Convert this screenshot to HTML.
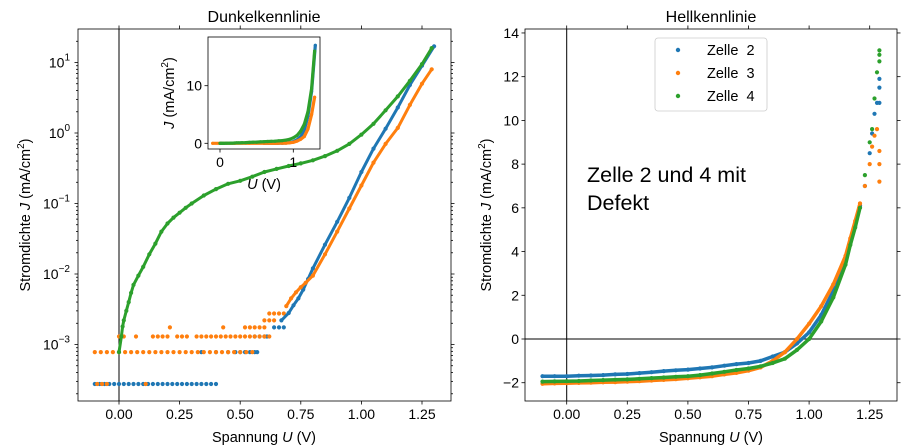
<!DOCTYPE html>
<html><head><meta charset="utf-8">
<style>
html,body{margin:0;padding:0;background:#fff;}
svg{display:block;font-family:"Liberation Sans","DejaVu Sans",sans-serif;}
</style></head>
<body>
<svg id="fig" width="923" height="447" viewBox="0 0 923 447" xmlns="http://www.w3.org/2000/svg"></svg>
<script>
// ---------- DATA ----------
const darkBlueFloorU = [-0.1,-0.08,-0.06,-0.04,-0.02,0,0.02,0.04,0.06,0.08,0.1,0.12,0.14,0.16,0.18,0.2,0.22,0.24,0.26,0.28,0.3,0.32,0.34,0.36,0.38,0.4,0.34,0.4,0.45,0.48,0.5,0.52,0.54,0.56,0.57,0.56,0.58,0.6,0.61,0.64,0.66,0.68];
const darkBlueFloorJ = [2.75e-4,2.75e-4,2.75e-4,2.75e-4,2.75e-4,2.75e-4,2.75e-4,2.75e-4,2.75e-4,2.75e-4,2.75e-4,2.75e-4,2.75e-4,2.75e-4,2.75e-4,2.75e-4,2.75e-4,2.75e-4,2.75e-4,2.75e-4,2.75e-4,2.75e-4,2.75e-4,2.75e-4,2.75e-4,2.75e-4,7.8e-4,7.8e-4,7.8e-4,7.8e-4,7.8e-4,7.8e-4,7.8e-4,7.8e-4,7.8e-4,1.3e-3,1.3e-3,1.3e-3,1.3e-3,1.75e-3,1.75e-3,1.75e-3];
const darkOrangeFloorU = [-0.09,-0.07,-0.05,0.11,-0.1,-0.075,-0.05,-0.025,0,0.025,0.05,0.075,0.1,0.125,0.15,0.175,0.2,0.225,0.25,0.275,0.3,0.325,0.35,0.375,0.4,0.425,0.45,0.475,0.5,0.525,0.55,0,0.02,0.07,0.14,0.16,0.18,0.2,0.24,0.26,0.28,0.32,0.34,0.36,0.38,0.4,0.42,0.44,0.46,0.48,0.5,0.52,0.54,0.56,0.58,0.6,0.62,0.21,0.43,0.52,0.54,0.56,0.58,0.6,0.6,0.62,0.64,0.62,0.64,0.66,0.68];
const darkOrangeFloorJ = [2.75e-4,2.75e-4,2.75e-4,2.75e-4,7.8e-4,7.8e-4,7.8e-4,7.8e-4,7.8e-4,7.8e-4,7.8e-4,7.8e-4,7.8e-4,7.8e-4,7.8e-4,7.8e-4,7.8e-4,7.8e-4,7.8e-4,7.8e-4,7.8e-4,7.8e-4,7.8e-4,7.8e-4,7.8e-4,7.8e-4,7.8e-4,7.8e-4,7.8e-4,7.8e-4,7.8e-4,1.3e-3,1.3e-3,1.3e-3,1.3e-3,1.3e-3,1.3e-3,1.3e-3,1.3e-3,1.3e-3,1.3e-3,1.3e-3,1.3e-3,1.3e-3,1.3e-3,1.3e-3,1.3e-3,1.3e-3,1.3e-3,1.3e-3,1.3e-3,1.3e-3,1.3e-3,1.3e-3,1.3e-3,1.3e-3,1.3e-3,1.75e-3,1.75e-3,1.75e-3,1.75e-3,1.75e-3,1.75e-3,1.75e-3,2.2e-3,2.2e-3,2.2e-3,2.75e-3,2.75e-3,2.75e-3,2.75e-3];
const darkBlueU = [-0.1,0,0.2,0.4,0.6,0.67,0.7,0.72,0.74,0.76,0.78,0.8,0.85,0.9,0.95,1.0,1.05,1.1,1.15,1.2,1.25,1.3];
const darkBlueJ = [2.75e-4,2.75e-4,2.8e-4,4e-4,1.2e-3,2.2e-3,2.8e-3,3.6e-3,4.5e-3,6e-3,8.5e-3,0.012,0.026,0.055,0.12,0.28,0.6,1.15,2.3,4.8,9,17];
const darkOrangeU = [-0.1,0,0.2,0.4,0.6,0.69,0.71,0.73,0.75,0.77,0.8,0.85,0.9,0.95,1.0,1.05,1.1,1.15,1.2,1.25,1.29];
const darkOrangeJ = [7.8e-4,8e-4,1e-3,1.2e-3,1.8e-3,3.5e-3,4.5e-3,5.5e-3,6.5e-3,7.5e-3,9.5e-3,0.019,0.04,0.085,0.18,0.38,0.7,1.18,2.5,5,8];
const darkGreenU = [0,0.01,0.015,0.02,0.03,0.04,0.05,0.06,0.08,0.1,0.125,0.15,0.175,0.2,0.225,0.25,0.275,0.3,0.35,0.4,0.45,0.5,0.55,0.6,0.65,0.7,0.75,0.8,0.85,0.9,0.95,1.0,1.05,1.1,1.15,1.2,1.25,1.29];
const darkGreenJ = [7.8e-4,1.3e-3,1.8e-3,2.2e-3,3e-3,4e-3,5.4e-3,7e-3,9.5e-3,0.0126,0.019,0.027,0.04,0.052,0.063,0.074,0.087,0.1,0.13,0.16,0.19,0.21,0.24,0.28,0.31,0.34,0.37,0.41,0.47,0.56,0.7,0.95,1.35,2.1,3.3,5.5,9.5,16];
const lightU = [-0.1,-0.05,0,0.05,0.1,0.15,0.2,0.25,0.3,0.35,0.4,0.45,0.5,0.55,0.6,0.65,0.7,0.75,0.8,0.85,0.9,0.95,1.0,1.05,1.1,1.15,1.17,1.19,1.21,1.23,1.25,1.26,1.27,1.28,1.29,1.29,1.29];
const lightBlueJ = [-1.7,-1.7,-1.7,-1.68,-1.67,-1.65,-1.62,-1.6,-1.56,-1.52,-1.47,-1.43,-1.4,-1.35,-1.3,-1.22,-1.15,-1.1,-1.0,-0.8,-0.6,-0.2,0.3,1.1,2.2,3.6,4.4,5.2,6.1,7.0,8.5,9.4,10.3,10.8,11.5,11.9,10.8];
const lightOrangeJ = [-2.05,-2.03,-2.02,-2.01,-2.0,-1.98,-1.97,-1.95,-1.93,-1.9,-1.87,-1.84,-1.8,-1.75,-1.7,-1.62,-1.55,-1.45,-1.3,-1.0,-0.6,0.0,0.7,1.5,2.5,3.8,4.6,5.4,6.2,7.0,8.0,8.8,9.3,9.6,8.0,7.2,8.6];
const lightGreenJ = [-1.95,-1.94,-1.93,-1.92,-1.9,-1.88,-1.86,-1.85,-1.82,-1.79,-1.76,-1.73,-1.7,-1.65,-1.58,-1.5,-1.42,-1.35,-1.25,-1.1,-0.9,-0.5,0.0,0.8,1.9,3.4,4.3,5.1,6.0,7.5,9.0,9.6,11.0,12.2,13.2,13.0,12.7];
const seriesNames = ["Zelle  2","Zelle  3","Zelle  4"];
const colors = ["#1f77b4","#ff7f0e","#2ca02c"];
const xTicks = [0,0.25,0.5,0.75,1.0,1.25];
const xTickLabels = ["0.00","0.25","0.50","0.75","1.00","1.25"];
const logTicks = [1,0,-1,-2,-3];
const linTicks = [-2,0,2,4,6,8,10,12,14];

// ---------- HELPERS ----------
const svg = document.getElementById('fig');
const NS = "http://www.w3.org/2000/svg";
function el(tag, attrs, parent){ const e=document.createElementNS(NS,tag); for(const k in attrs) e.setAttribute(k,attrs[k]); (parent||svg).appendChild(e); return e; }

const L = {x0:78, x1:451, y0:29, y1:401};
const xL = u => 119 + u*242.4;
const yLog = j => 133 - Math.log10(j)*70.5;
const R = {x0:525, x1:897, y0:29, y1:401};
const xR = u => 566.7 + u*242.4;
const yLin = j => 339 - j*21.86;
const I = {x0:208, x1:320, y0:37, y1:149};
const xI = u => 220 + u*73.3;
const yI = j => 143.3 - j*5.76;

function tick(x1,y1,x2,y2,name,parent){ const t=el('line',{x1,y1,x2,y2,stroke:'#000','stroke-width':0.8},parent);   }
function text(x,y,str,opts,parent){ const t=el('text',Object.assign({x,y,'font-size':14,fill:'#000'},opts||{}),parent); t.textContent=str; return t; }

function scatter(g, us, js, fx, fy, col, r, name, line){
  if(line){
    let pts=[]; for(let i=0;i<us.length;i++) pts.push(fx(us[i]).toFixed(1)+','+fy(js[i]).toFixed(1));
    const p=el('polyline',{points:pts.join(' '),fill:'none',stroke:col,'stroke-width':line,'stroke-linejoin':'round','stroke-linecap':'round'},g);
    
    
  }
  for(let i=0;i<us.length;i++){
    const c=el('circle',{cx:fx(us[i]).toFixed(1),cy:fy(js[i]).toFixed(1),r:r,fill:col},g);
    
    
  }
}

// ---------- LEFT PLOT ----------
const gL = el('g',{});


el('line',{x1:xL(0),y1:L.y0,x2:xL(0),y2:L.y1,stroke:'#000','stroke-width':1},gL);
scatter(gL, darkBlueFloorU, darkBlueFloorJ, xL, yLog, colors[0], 2.1, 'dark-zelle2-floor');
scatter(gL, darkOrangeFloorU, darkOrangeFloorJ, xL, yLog, colors[1], 2.1, 'dark-zelle3-floor');
scatter(gL, darkBlueU.slice(5), darkBlueJ.slice(5), xL, yLog, colors[0], 2.1, 'dark-zelle2', 3);
scatter(gL, darkOrangeU.slice(5), darkOrangeJ.slice(5), xL, yLog, colors[1], 2.1, 'dark-zelle3', 3);
scatter(gL, darkGreenU, darkGreenJ, xL, yLog, colors[2], 2.1, 'dark-zelle4', 3);
el('rect',{x:L.x0,y:L.y0,width:L.x1-L.x0,height:L.y1-L.y0,fill:'none',stroke:'#000','stroke-width':0.8},gL);
xTicks.forEach((u,i)=>{ const x=xL(u); tick(x,L.y1,x,L.y1+3.5,'x-tick',gL); tick(x,L.y0,x,L.y0-3.5,'x-tick-top',gL); text(x,L.y1+18,xTickLabels[i],{'text-anchor':'middle'},gL); });
logTicks.forEach(e=>{ const y=yLog(Math.pow(10,e)); tick(L.x0,y,L.x0-3.5,y,'y-tick',gL); tick(L.x1,y,L.x1+3.5,y,'y-tick-right',gL);
  const t=text(L.x0-8,y+5,'10',{'text-anchor':'end'},gL); const s=document.createElementNS(NS,'tspan'); s.setAttribute('dy','-7'); s.setAttribute('font-size','10'); s.textContent=(e<0?'\u2212':'')+Math.abs(e); t.appendChild(s); });
for(let e=-4;e<=1;e++){ for(let m=2;m<=9;m++){ const y=yLog(m*Math.pow(10,e)); if(y<L.y0||y>L.y1) continue; tick(L.x0,y,L.x0-2,y,'y-minor-tick',gL); tick(L.x1,y,L.x1+2,y,'y-minor-tick-right',gL);} }
text(264,22,'Dunkelkennlinie',{'text-anchor':'middle','font-size':16},gL);
const xlL=text(264,442,'',{'text-anchor':'middle','font-size':14.5},gL); xlL.innerHTML='Spannung <tspan font-style="italic">U</tspan> (V)'; 
const ylL=text(0,0,'',{'text-anchor':'middle','font-size':14.5,transform:'translate(30,215) rotate(-90)'},gL); ylL.innerHTML='Stromdichte <tspan font-style="italic">J</tspan> (mA/cm<tspan dy="-6" font-size="10">2</tspan><tspan dy="6">)</tspan>'; 

// Inset
const gI = el('g',{});


el('rect',{x:I.x0,y:I.y0,width:I.x1-I.x0,height:I.y1-I.y0,fill:'#fff'},gI);
scatter(gI, darkBlueU.slice(4), darkBlueJ.slice(4), xI, yI, colors[0], 1.6, 'inset-zelle2', 3.2);
scatter(gI, darkOrangeU, darkOrangeJ, xI, yI, colors[1], 1.6, 'inset-zelle3', 3.2);
scatter(gI, darkGreenU, darkGreenJ, xI, yI, colors[2], 1.6, 'inset-zelle4', 3.2);
el('rect',{x:I.x0,y:I.y0,width:I.x1-I.x0,height:I.y1-I.y0,fill:'none',stroke:'#000','stroke-width':0.8},gI);
[0,1].forEach(u=>{ const x=xI(u); tick(x,I.y1,x,I.y1+3.5,'inset-x-tick',gI); text(x,I.y1+18,String(u),{'text-anchor':'middle'},gI); });
[0,10].forEach(j=>{ const y=yI(j); tick(I.x0,y,I.x0-3.5,y,'inset-y-tick',gI); text(I.x0-6,y+5,String(j),{'text-anchor':'end'},gI); });
const xlI=text(264,189,'',{'text-anchor':'middle','font-size':14.5},gI); xlI.innerHTML='<tspan font-style="italic">U</tspan> (V)'; 
const ylI=text(0,0,'',{'text-anchor':'middle','font-size':14.5,transform:'translate(174,93) rotate(-90)'},gI); ylI.innerHTML='<tspan font-style="italic">J</tspan> (mA/cm<tspan dy="-6" font-size="10">2</tspan><tspan dy="6">)</tspan>'; 

// ---------- RIGHT PLOT ----------
const gR = el('g',{});


el('line',{x1:xR(0),y1:R.y0,x2:xR(0),y2:R.y1,stroke:'#000','stroke-width':1},gR);
el('line',{x1:R.x0,y1:yLin(0),x2:R.x1,y2:yLin(0),stroke:'#000','stroke-width':1},gR);
const lightSets=[lightBlueJ,lightOrangeJ,lightGreenJ];
const cut = 29;
lightSets.forEach((js,k)=>{ scatter(gR, lightU.slice(0,cut), js.slice(0,cut), xR, yLin, colors[k], 2.1, 'light-zelle'+(k+2), 3.5); scatter(gR, lightU.slice(cut-1), js.slice(cut-1), xR, yLin, colors[k], 2.1, 'light-zelle'+(k+2)+'-tail'); });
el('rect',{x:R.x0,y:R.y0,width:R.x1-R.x0,height:R.y1-R.y0,fill:'none',stroke:'#000','stroke-width':0.8},gR);
xTicks.forEach((u,i)=>{ const x=xR(u); tick(x,R.y1,x,R.y1+3.5,'x-tick',gR); tick(x,R.y0,x,R.y0-3.5,'x-tick-top',gR); text(x,R.y1+18,xTickLabels[i],{'text-anchor':'middle'},gR); });
linTicks.forEach(j=>{ const y=yLin(j); tick(R.x0,y,R.x0-3.5,y,'y-tick',gR); tick(R.x1,y,R.x1+3.5,y,'y-tick-right',gR); text(R.x0-6,y+5,(j<0?'\u2212':'')+Math.abs(j),{'text-anchor':'end'},gR); });
text(711,22,'Hellkennlinie',{'text-anchor':'middle','font-size':16},gR);
const xlR=text(711,442,'',{'text-anchor':'middle','font-size':14.5},gR); xlR.innerHTML='Spannung <tspan font-style="italic">U</tspan> (V)'; 
const ylR=text(0,0,'',{'text-anchor':'middle','font-size':14.5,transform:'translate(491,215) rotate(-90)'},gR); ylR.innerHTML='Stromdichte <tspan font-style="italic">J</tspan> (mA/cm<tspan dy="-6" font-size="10">2</tspan><tspan dy="6">)</tspan>'; 
const ann=text(587,182,'Zelle 2 und 4 mit',{'font-size':21.5},gR); 
text(587,210,'Defekt',{'font-size':21.5},gR);
// Legend
const gLeg = el('g',{},gR);


el('rect',{x:655,y:38,width:112,height:73,rx:3,fill:'#fff',stroke:'#ccc','stroke-width':0.8},gLeg);
seriesNames.forEach((n,k)=>{ const y=50+k*23; const c=el('circle',{cx:678,cy:y,r:2.2,fill:colors[k]},gLeg);   const t=text(707,y+5,n,{'font-size':14.5,'xml:space':'preserve'},gLeg);   t.style.whiteSpace='pre'; });
</script>
</body></html>
